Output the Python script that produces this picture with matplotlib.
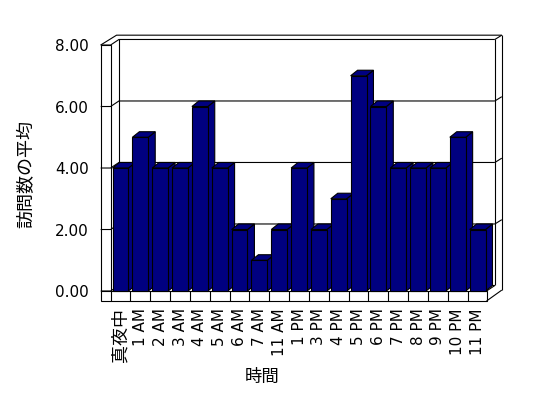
import matplotlib
matplotlib.use("Agg")
import matplotlib.pyplot as plt
from matplotlib.patches import Polygon, Rectangle

plt.rcParams['font.family'] = ['DejaVu Sans', 'Noto Sans CJK JP']

# データ
hours = ['真夜中', '1 AM', '2 AM', '3 AM', '4 AM', '5 AM', '6 AM', '7 AM', '11 AM',
         '1 PM', '3 PM', '4 PM', '5 PM', '6 PM', '7 PM', '8 PM', '9 PM', '10 PM', '11 PM']
visits = [4, 5, 4, 4, 6, 4, 2, 1, 2, 4, 2, 3, 7, 6, 4, 4, 4, 5, 2]
yticks = [0, 2, 4, 6, 8]

navy = '#000080'
lw = 0.8

# 奥行き (データ単位)
DX, DY = 0.42, 0.18     # 壁の奥行き
BDX, BDY = 0.35, 0.18   # 棒の奥行き
bw = 0.8                # 棒の幅
n = len(hours)
left = -0.5
right = n - 0.55
wall_w = 0.5
floor_h = 0.325

fig = plt.figure(figsize=(5.48, 3.98), dpi=100)
ax = fig.add_axes([0.1801, 0.2379, 0.7403, 0.6799])
ax.set_xlim(-1.1, n + 0.35)
ax.set_ylim(-0.4, 8.4)
for s in ax.spines.values():
    s.set_visible(False)

def line(xs, ys, z=1):
    ax.plot(xs, ys, color='black', lw=lw, zorder=z, solid_capstyle='butt')

# 後ろの壁 / 目盛線
top = yticks[-1]
ox, oy = right + DX + 0.35, top + DY + 0.14
line([left - wall_w, left - wall_w + 0.8, ox], [top, oy, oy])
line([ox, ox], [oy, 0.03])
for v in yticks:
    line([left - wall_w, left, left + DX, right + DX], [v, v, v + DY, v + DY])
    if v > 0:
        line([right + DX, ox], [v + DY, v + DY + 0.14])
line([left + DX, left + DX], [DY, top + DY])
line([right + DX, right + DX], [DY, top + DY])
# 左の壁の正面
ax.add_patch(Rectangle((left - wall_w, 0), wall_w, top, fill=False, ec='black', lw=lw, zorder=1))

# 床
ax.add_patch(Rectangle((left - wall_w, -floor_h), right - left + wall_w, floor_h,
                       fc='white', ec='black', lw=lw, zorder=1))
for i in range(n):
    line([i - 0.5, i - 0.5], [-floor_h, 0])
line([right, ox], [-floor_h, 0.03])
line([right, right + DX], [0, DY])

# 棒 (側面と上面)
for i, v in enumerate(visits):
    x0, x1 = i - bw / 2, i + bw / 2
    side = [(x1, 0), (x1 + BDX, BDY), (x1 + BDX, v + BDY), (x1, v)]
    topf = [(x0, v), (x1, v), (x1 + BDX, v + BDY), (x0 + BDX, v + BDY)]
    ax.add_patch(Polygon(side, closed=True, fc=navy, ec='black', lw=lw, zorder=2))
    ax.add_patch(Polygon(topf, closed=True, fc=navy, ec='black', lw=lw, zorder=2))
# 棒 (正面)
ax.bar(range(n), visits, width=bw, color=navy, edgecolor='black', linewidth=lw, zorder=3)

ax.set_yticks(yticks)
ax.set_yticklabels(['%.2f' % v for v in yticks], fontsize=11)
ax.set_xticks(range(n))
ax.set_xticklabels(hours, rotation=90, fontsize=11)
ax.get_xticklabels()[0].set_fontsize(13)
ax.tick_params(axis='y', length=0, pad=7)
ax.tick_params(axis='x', length=0, pad=3.4)

fig.text(0.048, 0.562, '訪問数の平均', rotation=90, ha='center', va='center', fontsize=13)
fig.text(0.479, 0.054, '時間', ha='center', va='center', fontsize=12.5)

fig.savefig('out.png', dpi=100)
